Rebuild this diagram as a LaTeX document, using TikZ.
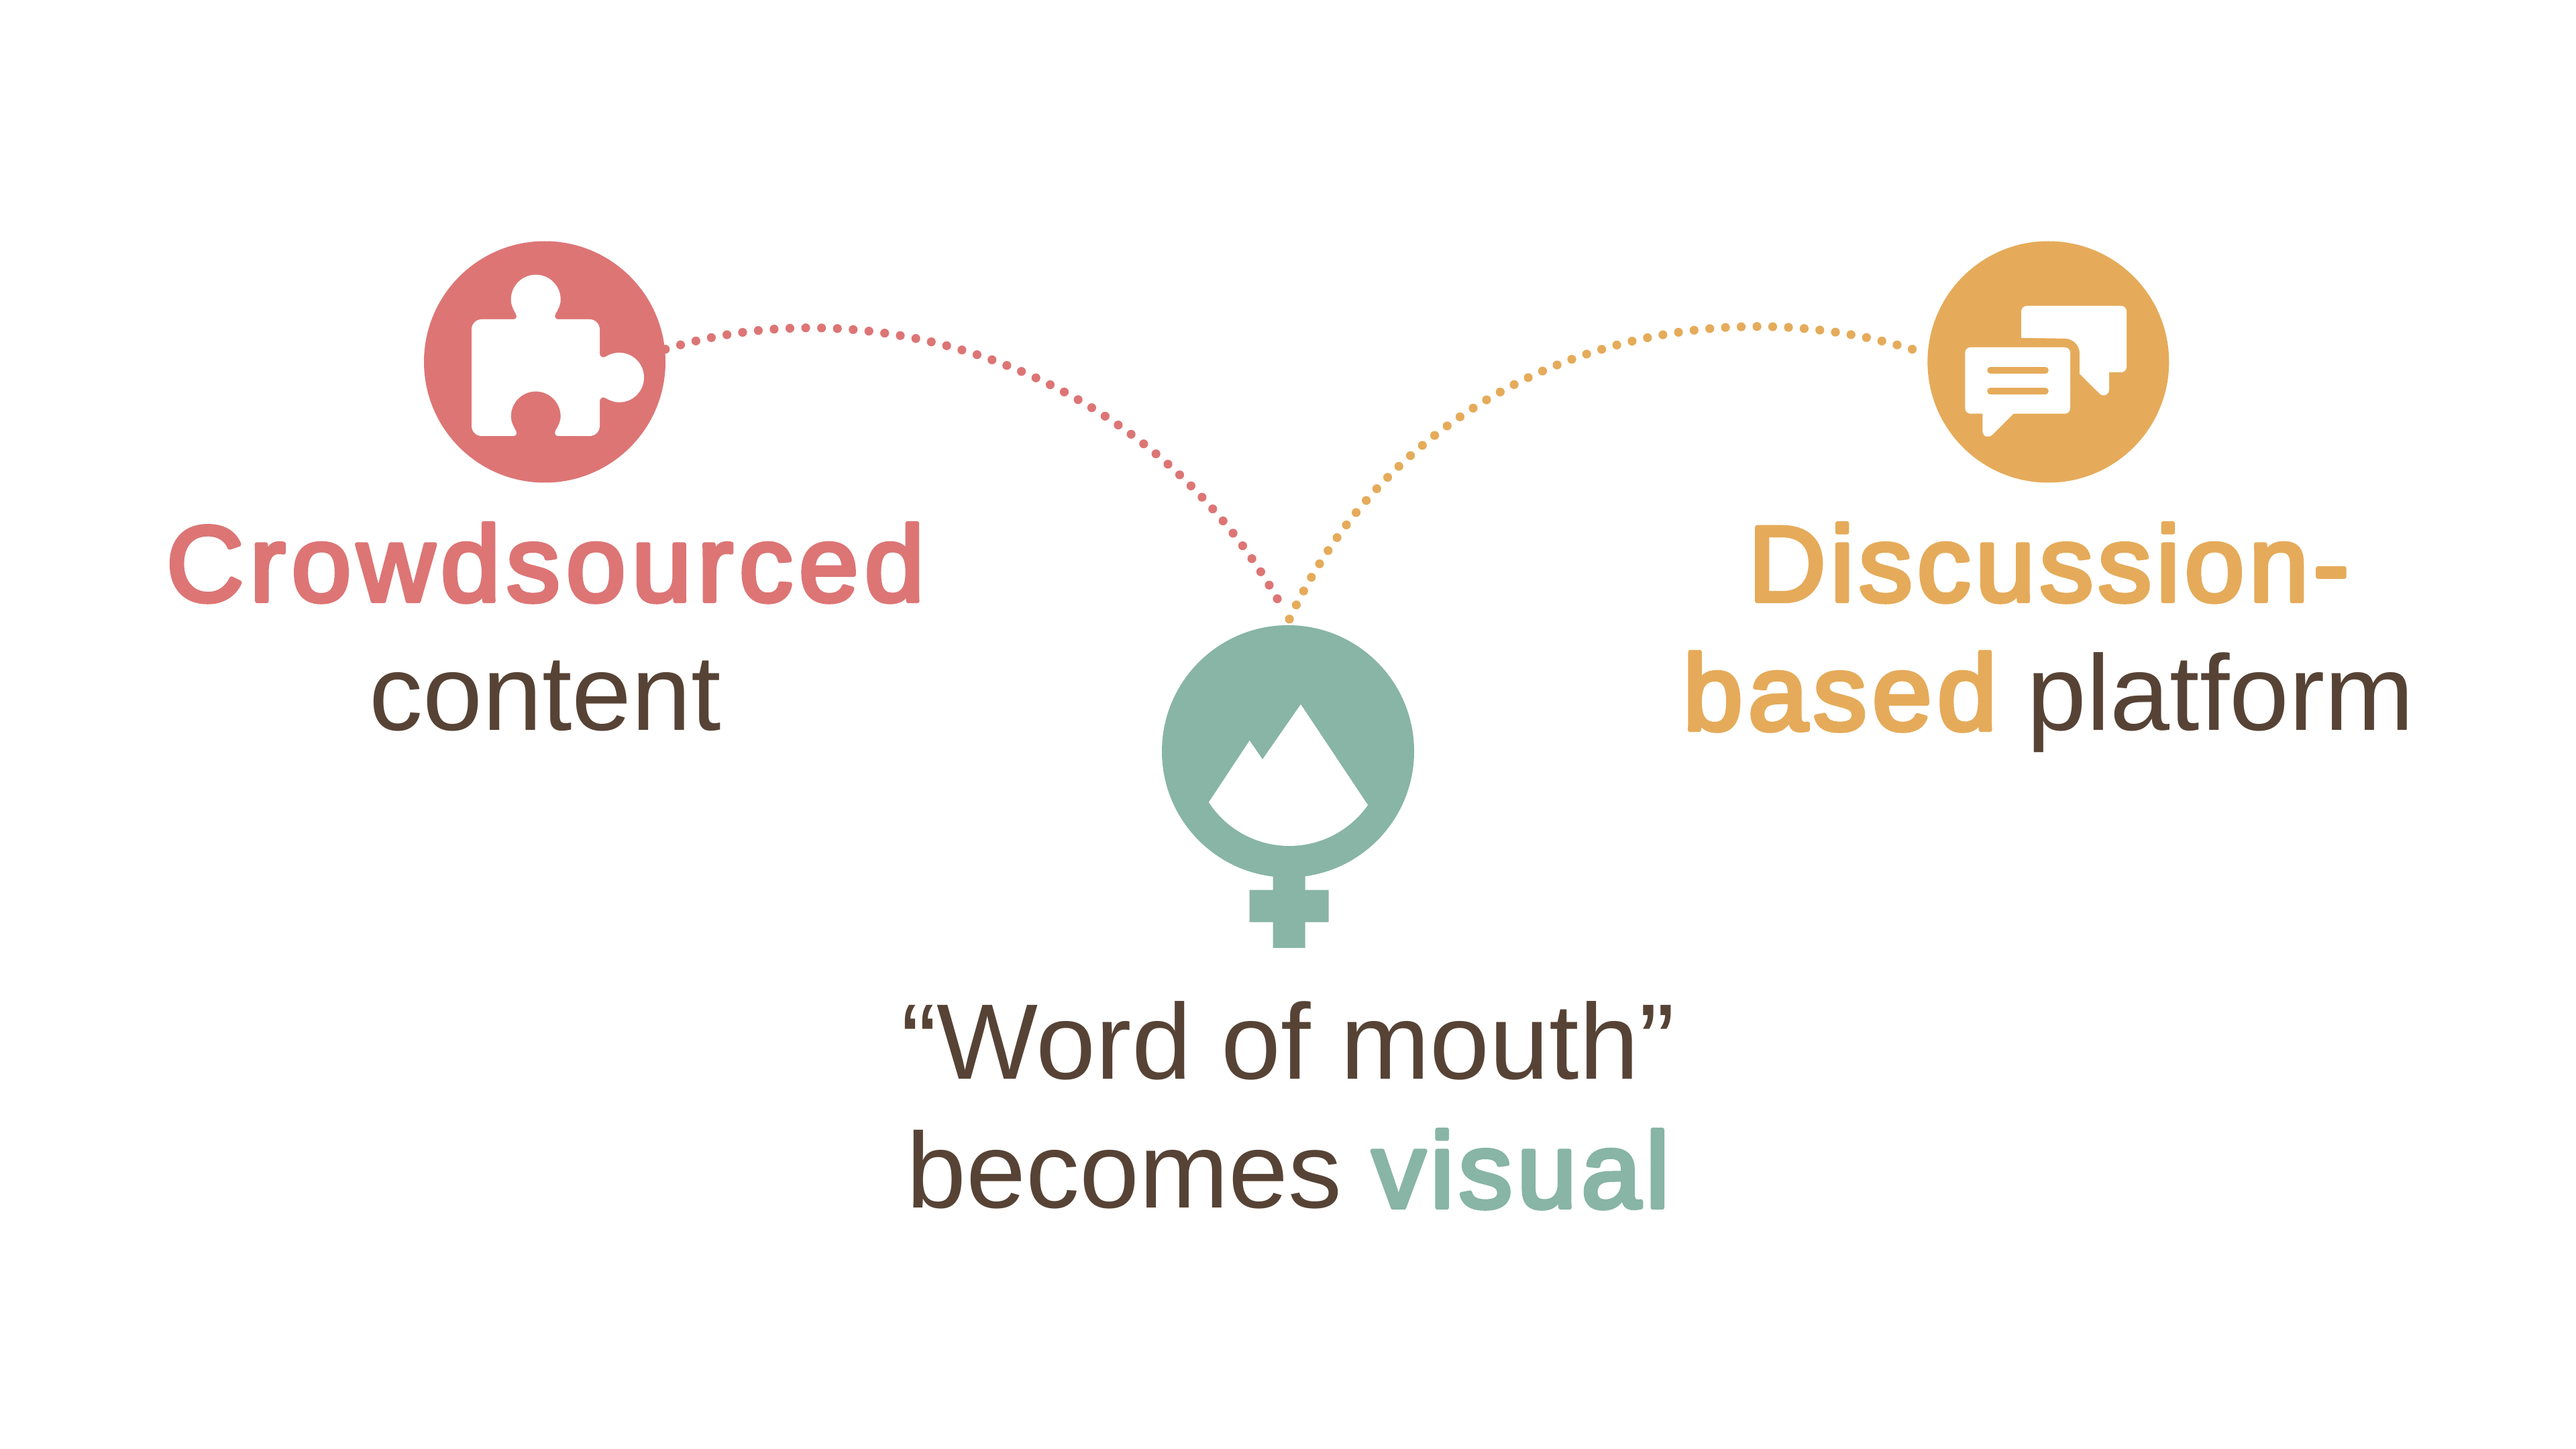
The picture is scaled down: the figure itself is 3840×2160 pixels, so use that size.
\documentclass[tikz,border=0pt]{standalone}
\usepackage{fontspec}
\setmainfont{Liberation Sans}
\newfontfamily\rnd[FakeBold=4,LetterSpace=5.6]{Liberation Sans}
\newfontfamily\rndb[FakeBold=4,LetterSpace=4.3]{Liberation Sans}
\newfontfamily\rndc[FakeBold=4,LetterSpace=5.0]{Liberation Sans}
\definecolor{cred}{HTML}{DD7575}
\definecolor{corange}{HTML}{E5AB5A}
\definecolor{cgreen}{HTML}{88B5A5}
\definecolor{cbrown}{HTML}{574335}
\newcommand{\hl}[2]{{\color{#1}#2}}
\tikzset{
  disc/.style={circle,inner sep=0pt,minimum size=#1},
  label text/.style={align=center,text=cbrown,inner sep=0pt,font=\fontsize{40}{48}\selectfont},
  dotline/.style={line width=3.3pt,line cap=round,dash pattern=on 0pt off 5.9pt},
  dotlineb/.style={line width=3.3pt,line cap=round,dash pattern=on 0pt off 5.87pt},
  glyph/.style={fill=white}
}
\begin{document}
\begin{tikzpicture}[x=0.25pt,y=-0.25pt]
\pgfsetroundcap\pgfsetroundjoin
\useasboundingbox (0,0) rectangle (3840,2160);
\fill[white] (0,0) rectangle (3840,2160);

% discs
\node[disc=90pt,fill=cred] (puzzle) at (812,539.5) {};
\node[disc=90pt,fill=corange] (chat) at (3053.3,539.5) {};
\node[disc=94pt,fill=cgreen] (venus) at (1920,1120) {};
\fill[cgreen] (1897.7,1295) -- (1945.7,1295) -- (1945.7,1326.5) -- (1980.7,1326.5) -- (1980.7,1374.5)
  -- (1945.7,1374.5) -- (1945.7,1413) -- (1897.7,1413) -- (1897.7,1374.5) -- (1862.7,1374.5)
  -- (1862.7,1326.5) -- (1897.7,1326.5) -- cycle;

% connectors
\draw[dotline,cred] (puzzle.6) .. controls (1320,420) and (1720,560) .. ([xshift=-2.5pt,yshift=7pt]venus.north);
\draw[dotlineb,corange] ([xshift=-5.75pt]chat.174) .. controls (2520,420) and (2100,540) .. ([yshift=1pt]venus.north);

% puzzle piece
\fill[glyph] (718,476) -- (765,476) .. controls (770,476) and (771,472) .. (769,468)
  .. controls (765,461) and (761.7,455) .. (761.7,446.5) arc (180:0:9.25pt)
  .. controls (835.7,455) and (832,461) .. (828,468) .. controls (826,472) and (828,476) .. (832,476)
  -- (879,476) arc (90:0:3.75pt) -- (894,527)
  .. controls (894,531) and (898,534) .. (902,532) .. controls (909,528) and (915,525.7) .. (923,525.7)
  arc (90:-90:9.25pt) .. controls (915,599.7) and (909,597) .. (902,593)
  .. controls (898,591) and (894,594) .. (894,598) -- (894,635) arc (0:-90:3.75pt)
  -- (832,650) .. controls (828,650) and (826,646) .. (828,642) .. controls (832,635) and (835.7,629) .. (835.7,620.5)
  arc (0:180:9.25pt) .. controls (761.7,629) and (765,635) .. (769,642)
  .. controls (771,646) and (770,650) .. (765,650) -- (718,650) arc (270:180:3.75pt)
  -- (703,491) arc (180:90:3.75pt) -- cycle;

% speech bubbles
\fill[glyph] (3013,464) arc (180:90:2pt) -- (3162,456) arc (90:0:2pt) -- (3170,547) arc (0:-90:2pt)
  -- (3144,555) -- (3144,580) .. controls (3144,590) and (3134,592) .. (3129,586) -- (3100,557.3)
  -- (3100,526.7) arc (0:90:5.5pt) -- (3013,503.7) -- cycle;
\fill[glyph] (2929.3,525.7) arc (180:90:2pt) -- (3078,517.7) arc (90:0:2pt) -- (3086,608.7) arc (0:-90:2pt)
  -- (3001.3,616.7) -- (2970,648) .. controls (2965,653) and (2955.3,652) .. (2955.3,642)
  -- (2955.3,616.7) -- (2937.3,616.7) arc (270:180:2pt) -- cycle;
\draw[corange,line width=2.4pt,line cap=round] (2967,552) -- (3049,552);
\draw[corange,line width=2.4pt,line cap=round] (2967,583) -- (3049,583);

% mountain
\fill[glyph] (1939,1050) -- (2039,1200) arc (-35:-147:35.75pt) -- (1862.7,1104) -- (1882,1132) -- cycle;

% labels
\node[label text,anchor=base] (t1) at (813,1088) {\hl{cred}{\rnd Crowdsourced}\\content};
\node[label text,anchor=base] (t2) at (3054,1088) {\hl{corange}{\rndb Discussion-}\\\hl{corange}{\rndc based} platform};
\node[label text,anchor=base] (t3) at (1920,1800) {“Word of mouth”\\becomes \hl{cgreen}{\rndb visual}};
\end{tikzpicture}
\end{document}
